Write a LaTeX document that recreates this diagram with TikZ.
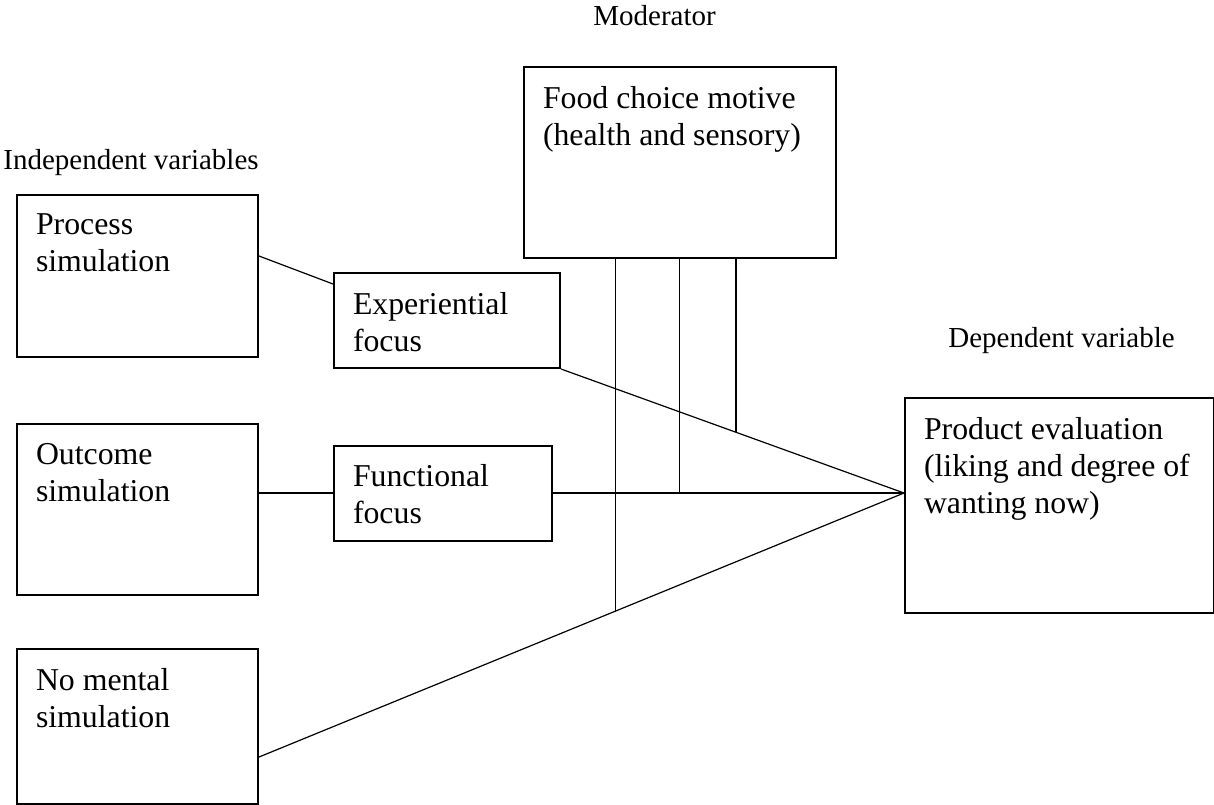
\documentclass[tikz,border=0pt]{standalone}
\usepackage{fontspec}
\setmainfont{Liberation Serif}
\usetikzlibrary{calc}
\newcommand{\boxtxt}[3]{\parbox[c][#2][t]{#1}{\raggedright #3}}

\begin{document}
\begin{tikzpicture}[x=0.5pt, y=-0.5pt,
  BX/.style={draw, line width=1pt, anchor=north west, inner sep=9.5pt,
             font=\fontsize{15.9}{18.5}\selectfont},
  LB/.style={anchor=base west, inner sep=0pt, font=\fontsize{14.5}{17}\selectfont},
  LN/.style={line width=0.6pt}
]
  \useasboundingbox (0,0) rectangle (1214,804);

  % headings
  \node[LB] (lmod) at (593,25)  {Moderator};
  \node[LB] (lind) at (3,169)   {Independent variables};
  \node[LB] (ldep) at (948,347) {Dependent variable};

  % boxes
  \node[BX] (fm) at (523,66)    {\boxtxt{137pt}{76.5pt}{Food choice motive\\(health and sensory)}};
  \node[BX] (ps) at (16,194)    {\boxtxt{101.5pt}{62pt}{Process\\simulation}};
  \node[BX] (os) at (16,423)    {\boxtxt{101.5pt}{66.5pt}{Outcome\\simulation}};
  \node[BX] (nm) at (16,648)    {\boxtxt{101.5pt}{58.5pt}{No mental\\simulation}};
  \node[BX] (ef) at (333,272)   {\boxtxt{94pt}{28.5pt}{Experiential\\focus}};
  \node[BX] (ff) at (333,444.5) {\boxtxt{90pt}{28.5pt}{Functional\\focus}};
  \node[BX] (pe) at (904,397)   {\boxtxt{135.5pt}{88.5pt}{Product evaluation\\(liking and degree of\\wanting now)}};

  % connectors
  \coordinate (jn)  at ([yshift=6.25pt]pe.west);
  \coordinate (pso) at ([yshift=10pt]ps.east);
  \coordinate (efi) at ([yshift=18.25pt]ef.west);
  \coordinate (nmo) at ([yshift=-15.25pt]nm.east);
  \draw[LN] (pso) -- (efi);
  \draw[LN] (ef.south east) -- (jn);
  \draw[LN] (os.east |- ff.west) -- (ff.west);
  \draw[LN] (ff.east) -- (jn);
  \draw[LN] (nmo) -- (jn);

  % moderator lines
  \coordinate (m1) at ($(nmo)!0.553!(jn)$);
  \coordinate (m2) at ($(ff.east)!0.36!(jn)$);
  \coordinate (m3) at ($(ef.south east)!0.51!(jn)$);
  \foreach \m in {m1,m2,m3} \draw[LN] (\m) -- (\m |- fm.south);
\end{tikzpicture}
\end{document}
